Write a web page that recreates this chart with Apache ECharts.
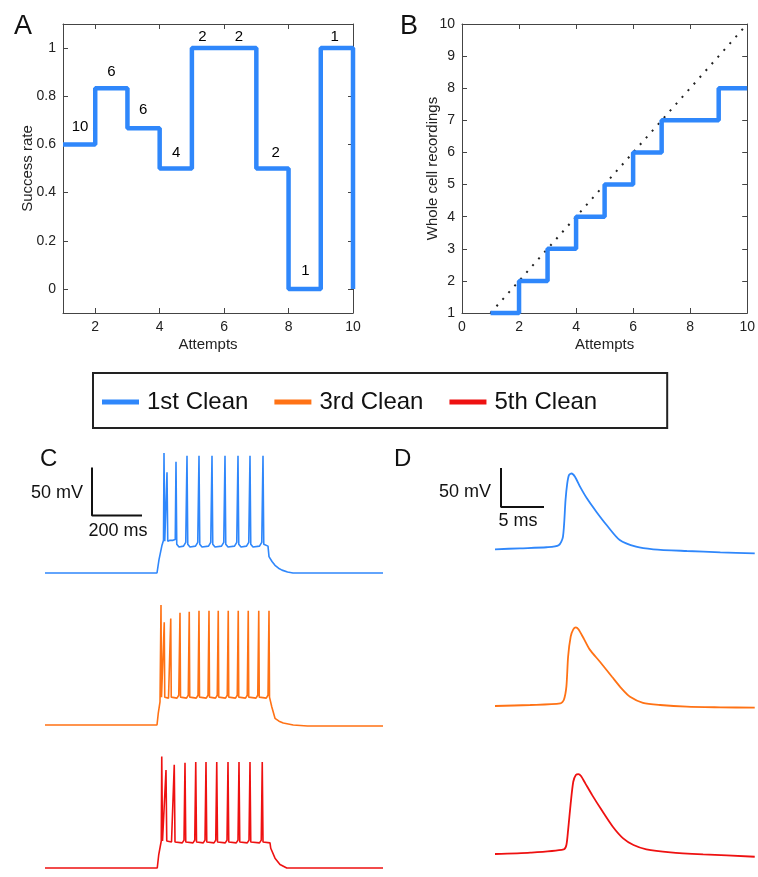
<!DOCTYPE html>
<html>
<head>
<meta charset="utf-8">
<script src="https://cdn.jsdelivr.net/npm/echarts@6/dist/echarts.min.js"></script>
<style>html,body{margin:0;background:#fff}#main{width:758px;height:877px}</style>
</head>
<body>
<div id="main"></div>
<script>
var FONT = 'Liberation Sans, Arial, sans-serif';
var BLUE = '#2f87fb', ORANGE = '#ff7215', RED = '#ee1111', AX = '#444';

// A: success rate per attempt (step), counts above each step
var attemptsA = [1, 2, 3, 4, 5, 6, 7, 8, 9, 10];
var rateA = [0.6, 0.833, 0.667, 0.5, 1, 1, 0.5, 0, 1, 0];
var countX = [1.53, 2.5, 3.49, 4.51, 5.33, 6.46, 7.6, 8.52, 9.43];
var countY = [0.673, 0.9, 0.743, 0.566, 1.047, 1.047, 0.566, 0.076, 1.047];
var countN = [10, 6, 6, 4, 2, 2, 2, 1, 1];
var ticksAx = [2, 4, 6, 8, 10];
var ticksAy = [0, 0.2, 0.4, 0.6, 0.8, 1];

// B: cumulative whole cell recordings
var attemptsB = [1, 2, 3, 4, 5, 6, 7, 9, 10];
var recordingsB = [1, 2, 3, 4, 5, 6, 7, 8, 8];
var diagonalB = [[1, 1], [10, 10]];

// C: spike trains [ms, mV]
var blueC = [[0,-70],[448,-70],[456,-56],[468,-41],[474,-36],[476,55],[479,-37],[484,-37],[488,35],[491,-37],[500,-36],[512,-36],[521,-35],[524,46],[527,-40],[536,-43],[554,-42],[563,-38],[568,52],[571,-40],[580,-43],[602,-42],[611,-38],[616,52],[619,-40],[628,-43],[654,-42],[663,-38],[668,52],[671,-40],[680,-43],[706,-42],[715,-38],[720,52],[723,-40],[732,-43],[758,-42],[767,-38],[772,52],[775,-40],[784,-43],[806,-42],[815,-38],[820,52],[823,-40],[832,-43],[858,-42],[867,-38],[872,52],[875,-40],[882,-42],[892,-42],[896,-53],[908,-58],[920,-62],[934,-65],[948,-67],[970,-69],[992,-70],[1352,-70]];
var orangeC = [[0,-70],[448,-70],[453,-58],[460,-46],[463,-44],[464,55],[466,-41],[473,-41],[477,37],[479,-41],[486,-43],[494,-42],[499,-40],[503,41],[505,-41],[512,-43],[528,-42],[535,-39],[540,47],[542,-41],[549,-43],[566,-42],[573,-39],[577,48],[579,-41],[586,-43],[605,-42],[612,-39],[616,49],[618,-41],[625,-43],[645,-42],[652,-39],[656,49],[658,-41],[665,-43],[682,-42],[689,-39],[693,49],[695,-41],[702,-43],[722,-42],[729,-39],[733,49],[735,-41],[742,-43],[762,-42],[769,-39],[773,49],[775,-41],[782,-43],[802,-42],[809,-39],[813,49],[815,-41],[822,-43],[844,-42],[851,-39],[855,49],[857,-41],[864,-43],[885,-42],[892,-39],[896,49],[898,-41],[903,-43],[907,-51],[920,-63],[936,-66],[953,-68],[993,-70],[1050,-71],[1352,-71]];
var redC = [[0,-70],[449,-70],[455,-55],[463,-43],[465,-40],[467,54],[470,-40],[476,-40],[484,39],[487,-40],[494,-42],[506,-41],[513,-39],[517,45],[520,-41],[528,-43],[549,-42],[556,-39],[560,47],[563,-41],[571,-43],[592,-42],[599,-39],[603,48],[606,-41],[614,-43],[633,-42],[640,-39],[644,48],[647,-41],[655,-43],[676,-42],[683,-39],[687,48],[690,-41],[698,-43],[721,-42],[728,-39],[732,48],[735,-41],[743,-43],[765,-42],[772,-39],[776,48],[779,-41],[787,-43],[809,-42],[816,-39],[820,48],[823,-41],[831,-43],[858,-42],[865,-39],[869,48],[872,-41],[880,-43],[900,-42],[903,-48],[920,-59],[940,-66],[967,-70],[1352,-70]];
var scaleC = [[188, 40], [188, -10], [388, -10]];

// D: single action potentials [ms, mV]
var blueD = [[0,-70],[2.9,-68.7],[6.0,-67.4],[7.4,-64.9],[7.9,-54],[8.2,-7],[8.4,14.4],[8.6,25],[8.9,27.2],[9.3,23],[9.9,10],[10.7,-5],[11.8,-22.1],[13.0,-39.2],[14.5,-58.1],[16.4,-66.7],[18.4,-70],[22.3,-72.2],[26.2,-73.9],[30.2,-75.2]];
var orangeD = [[0,-70],[4.1,-68.7],[7.6,-66.6],[8.0,-62.3],[8.3,-45.2],[8.5,-6.8],[8.8,18.9],[9.1,28.3],[9.4,30.9],[9.7,28.3],[10.3,16.8],[11.0,2.6],[12.2,-13.3],[13.6,-32.5],[14.7,-47.4],[15.7,-58.2],[17.2,-65.9],[19.2,-68.7],[22.3,-70.9],[26.2,-71.7],[30.2,-72.2]];
var redD = [[0,-70],[4.1,-68.3],[8.0,-64],[8.3,-58.5],[8.5,-39.3],[8.8,-5.1],[9.1,22.6],[9.4,31.2],[9.7,32.5],[10.0,29.9],[10.5,20.5],[11.3,5.5],[12.4,-13.7],[13.7,-35.1],[14.9,-50],[16.1,-58.5],[17.6,-64],[20.4,-67.8],[24.2,-70.4],[30.2,-73.5]];
var scaleD = [[0.7, 34.2], [0.7, -15.8], [5.7, -15.8]];

function pairs(xs, ys) {
    return xs.map(function (x, i) { return [x, ys[i]]; });
}

function boxAxis(grid, pos, min, max, ticks, interval, labels) {
    var a = {
        gridIndex: grid, type: 'value', position: pos, min: min, max: max,
        axisLine: { onZero: false, lineStyle: { color: AX, width: 1 } },
        axisTick: { inside: true, length: 5, lineStyle: { color: AX } },
        axisLabel: { show: labels, fontSize: 14, color: '#222', fontFamily: FONT, margin: 7 },
        splitLine: { show: false }
    };
    if (ticks) { a.axisTick.customValues = ticks; a.axisLabel.customValues = ticks; }
    if (interval) a.interval = interval;
    return a;
}

function named(axis, name, gap) {
    axis.name = name;
    axis.nameLocation = 'middle';
    axis.nameGap = gap;
    axis.nameMoveOverlap = false;
    axis.nameTextStyle = { fontSize: 15, color: '#222', fontFamily: FONT };
    return axis;
}

var xAxes = [
    named(boxAxis(0, 'bottom', 1, 10, ticksAx, null, true), 'Attempts', 24),
    boxAxis(0, 'top', 1, 10, ticksAx, null, false),
    named(boxAxis(1, 'bottom', 0, 10, null, 2, true), 'Attempts', 24),
    boxAxis(1, 'top', 0, 10, null, 2, false)
];
var yAxes = [
    named(boxAxis(0, 'left', -0.1, 1.1, ticksAy, null, true), 'Success rate', 28),
    boxAxis(0, 'right', -0.1, 1.1, ticksAy, null, false),
    named(boxAxis(1, 'left', 1, 10, null, 1, true), 'Whole cell recordings', 22),
    boxAxis(1, 'right', 1, 10, null, 1, false)
];

var grids = [
    { left: 63, top: 24, width: 290, height: 289 },
    { left: 462, top: 24, width: 289, height: 289 }
];
// C rows: -80..60 mV, 0..1352 ms ; D rows: -80..40 mV, 0..30.23 ms
[448.2, 600.2, 751.2].forEach(function (t) {
    grids.push({ left: 45, top: t, width: 338, height: 134.4 });
});
[463.5, 620.2, 768.2].forEach(function (t) {
    grids.push({ left: 495, top: t, width: 260, height: 93.6 });
});
for (var g = 2; g < 8; g++) {
    var isC = g < 5;
    xAxes.push({ gridIndex: g, type: 'value', min: 0, max: isC ? 1352 : 30.23, show: false });
    yAxes.push({ gridIndex: g, type: 'value', min: -80, max: isC ? 60 : 40, show: false });
}

function trace(name, color, g, data, width, smooth) {
    return {
        name: name, type: 'line', xAxisIndex: g + 2, yAxisIndex: g + 2, data: data,
        showSymbol: false, symbol: 'none', clip: false, smooth: smooth,
        lineStyle: { color: color, width: width }, itemStyle: { color: color }
    };
}

var series = [
    {
        type: 'line', xAxisIndex: 0, yAxisIndex: 0, step: 'end', data: pairs(attemptsA, rateA),
        symbol: 'none', clip: false, lineStyle: { color: BLUE, width: 4.5 }, itemStyle: { color: BLUE }
    },
    {
        type: 'scatter', xAxisIndex: 0, yAxisIndex: 0, symbolSize: 1, itemStyle: { color: 'rgba(0,0,0,0)' },
        data: countX.map(function (x, i) { return [x, countY[i], countN[i]]; }),
        label: {
            show: true, position: 'inside', fontSize: 15, color: '#000', fontFamily: FONT,
            textBorderWidth: 0, opacity: 1,
            formatter: function (p) { return String(p.value[2]); }
        }
    },
    {
        type: 'line', xAxisIndex: 2, yAxisIndex: 2, data: diagonalB, symbol: 'none',
        lineStyle: { color: '#222', width: 2, type: [2, 7] }
    },
    {
        type: 'line', xAxisIndex: 2, yAxisIndex: 2, step: 'end', data: pairs(attemptsB, recordingsB),
        symbol: 'none', clip: false, lineStyle: { color: BLUE, width: 4.5 }, itemStyle: { color: BLUE }
    },
    trace('1st Clean', BLUE, 2, blueC, 1.6, false),
    trace('3rd Clean', ORANGE, 3, orangeC, 1.6, false),
    trace('5th Clean', RED, 4, redC, 1.6, false),
    trace('scaleC', '#111', 2, scaleC, 2, false),
    trace('1st Clean', BLUE, 5, blueD, 1.8, 0.25),
    trace('3rd Clean', ORANGE, 6, orangeD, 1.8, 0.25),
    trace('5th Clean', RED, 7, redD, 1.8, 0.25),
    trace('scaleD', '#111', 5, scaleD, 2, false)
];

function txt(x, y, s, size, align) {
    return {
        type: 'text', x: x, y: y,
        style: { text: s, fill: '#111', font: size + 'px ' + FONT, align: align || 'left', verticalAlign: 'middle' }
    };
}

var myChart = echarts.init(document.getElementById('main'));
myChart.setOption({
    animation: false,
    grid: grids,
    xAxis: xAxes,
    yAxis: yAxes,
    legend: {
        data: ['1st Clean', '3rd Clean', '5th Clean'],
        left: 93, top: 373, padding: [16, 70, 13, 9],
        icon: 'rect', itemWidth: 37, itemHeight: 5, itemGap: 26,
        borderColor: '#222', borderWidth: 2, selectedMode: false,
        textStyle: { fontSize: 24, color: '#111', fontFamily: FONT, lineHeight: 26, padding: [0, 0, 0, 3] }
    },
    graphic: [
        txt(14, 27, 'A', 27), txt(400, 27, 'B', 27),
        txt(40, 459, 'C', 24), txt(394, 459, 'D', 24),
        txt(83, 493, '50 mV', 18, 'right'), txt(118, 531, '200 ms', 18, 'center'),
        txt(491, 492, '50 mV', 18, 'right'), txt(518, 521, '5 ms', 18, 'center')
    ],
    series: series
});
</script>
</body>
</html>
